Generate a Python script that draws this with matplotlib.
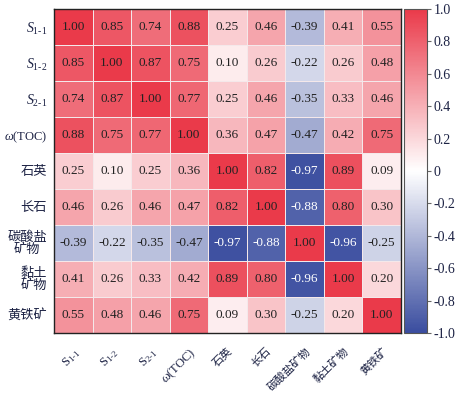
import numpy as np
import matplotlib
matplotlib.use("Agg")
import matplotlib.pyplot as plt
from matplotlib.colors import LinearSegmentedColormap

plt.rcParams['font.family'] = ['Liberation Serif', 'Noto Sans CJK SC']
plt.rcParams['mathtext.fontset'] = 'custom'
plt.rcParams['mathtext.rm'] = 'Liberation Serif'
plt.rcParams['mathtext.it'] = 'Liberation Serif:italic'

row_labels = [r'$S_{1\text{-}1}$', r'$S_{1\text{-}2}$', r'$S_{2\text{-}1}$', r'$\omega$(TOC)',
              '石英', '长石', '碳酸盐\n矿物', '黏土\n矿物', '黄铁矿']
col_labels = [r'$\mathrm{S}_{1\text{-}1}$', r'$\mathrm{S}_{1\text{-}2}$', r'$\mathrm{S}_{2\text{-}1}$',
              r'$\omega$(TOC)', '石英', '长石', '碳酸盐矿物', '黏土矿物', '黄铁矿']

corr = np.array([
    [1.00, 0.85, 0.74, 0.88, 0.25, 0.46, -0.39, 0.41, 0.55],
    [0.85, 1.00, 0.87, 0.75, 0.10, 0.26, -0.22, 0.26, 0.48],
    [0.74, 0.87, 1.00, 0.77, 0.25, 0.46, -0.35, 0.33, 0.46],
    [0.88, 0.75, 0.77, 1.00, 0.36, 0.47, -0.47, 0.42, 0.75],
    [0.25, 0.10, 0.25, 0.36, 1.00, 0.82, -0.97, 0.89, 0.09],
    [0.46, 0.26, 0.46, 0.47, 0.82, 1.00, -0.88, 0.80, 0.30],
    [-0.39, -0.22, -0.35, -0.47, -0.97, -0.88, 1.00, -0.96, -0.25],
    [0.41, 0.26, 0.33, 0.42, 0.89, 0.80, -0.96, 1.00, 0.20],
    [0.55, 0.48, 0.46, 0.75, 0.09, 0.30, -0.25, 0.20, 1.00],
])

cbar_ticks = [1.0, 0.8, 0.6, 0.4, 0.2, 0.0, -0.2, -0.4, -0.6, -0.8, -1.0]
cbar_ticklabels = ['1.0', '0.8', '0.6', '0.4', '0.2', '0', '-0.2', '-0.4', '-0.6', '-0.8', '-1.0']

cmap = LinearSegmentedColormap.from_list('bwr_custom', ['#3a4d9f', '#ffffff', '#ea3a4a'])
text_color = '#1c2244'

fig = plt.figure(figsize=(4.62, 3.93), dpi=100)
ax = fig.add_axes([54/462, 1-333/393, 347/462, 324/393])
cax = fig.add_axes([404/462, 1-333/393, 23/462, 324/393])

n = corr.shape[0]
mesh = ax.pcolormesh(np.arange(n+1), np.arange(n+1), corr, cmap=cmap, vmin=-1, vmax=1,
                     edgecolors='#f4e8ea', linewidth=0.4)
ax.set_xlim(0, n)
ax.set_ylim(n, 0)

for i in range(n):
    for j in range(n):
        v = corr[i, j]
        col = 'white' if v < -0.8 else '#222222'
        ax.text(j + 0.5, i + 0.5, f'{v:.2f}', ha='center', va='center', fontsize=9.5, color=col)

ax.set_yticks(np.arange(n) + 0.5)
ax.set_yticklabels(row_labels, color=text_color, linespacing=0.85)
for k, lab in enumerate(ax.get_yticklabels()):
    if k < 3:
        lab.set_fontsize(10)
    elif k == 3:
        lab.set_fontsize(9)
    else:
        lab.set_fontsize(9.5)
    lab.set_multialignment('center')

ax.set_xticks(np.arange(n) + 0.5)
ax.set_xticklabels(col_labels, color=text_color, rotation=45, ha='right', va='top',
                   rotation_mode='anchor')
for k, lab in enumerate(ax.get_xticklabels()):
    lab.set_fontsize(9 if k < 4 else 8)

ax.tick_params(axis='both', length=0)
ax.tick_params(axis='x', pad=9)
ax.tick_params(axis='y', pad=5)
for sp in ax.spines.values():
    sp.set_linewidth(1.0)
    sp.set_color('#222222')

cb = fig.colorbar(mesh, cax=cax, ticks=cbar_ticks)
cb.ax.set_yticklabels(cbar_ticklabels, fontsize=10, color=text_color)
cb.ax.tick_params(length=3, width=0.8, color='#666666', pad=2)
cb.outline.set_linewidth(0.8)
cb.outline.set_edgecolor('#555555')

fig.savefig('out.png', dpi=100)
